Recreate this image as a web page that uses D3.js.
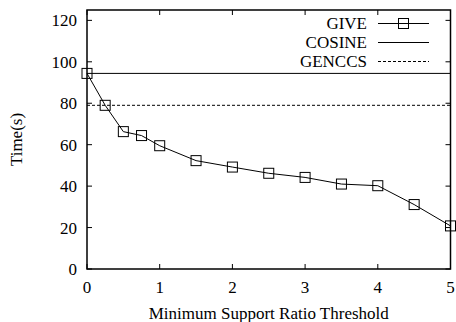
<!DOCTYPE html>
<html><head><meta charset="utf-8">
<script src="https://cdn.jsdelivr.net/npm/d3@7"></script>
<style>body{margin:0;background:#fff}svg{display:block}text{font-family:"Liberation Serif","Times New Roman",serif;fill:#000}</style>
</head><body><svg id="c" width="456" height="322"></svg>
<script>
const thresholds = [0, 0.25, 0.5, 0.75, 1, 1.5, 2, 2.5, 3, 3.5, 4, 4.5, 5];
const giveTimes = [94.4, 79, 66.3, 64.4, 59.5, 52.3, 49.2, 46.2, 44.2, 41, 40.2, 31.1, 20.8];
const cosineTime = 94.4;
const genccsTime = 79;
const xTicks = [0, 1, 2, 3, 4, 5];
const yTicks = [0, 20, 40, 60, 80, 100, 120];
const legendLabels = ["GIVE", "COSINE", "GENCCS"];

const svg = d3.select("#c");
const L = 87, R = 450.5, T = 10, B = 269;
const x = d3.scaleLinear().domain([0, 5]).range([L, R]);
const y = d3.scaleLinear().domain([0, 125]).range([B, T]);
const fs = 17;

// ticks (inward, mirrored)
const g = svg.append("g").attr("stroke", "#000").attr("stroke-width", 1);
yTicks.forEach(v => {
  g.append("line").attr("x1", L).attr("x2", L + 5).attr("y1", y(v)).attr("y2", y(v));
  g.append("line").attr("x1", R).attr("x2", R - 5).attr("y1", y(v)).attr("y2", y(v));
});
xTicks.forEach(v => {
  g.append("line").attr("x1", x(v)).attr("x2", x(v)).attr("y1", B).attr("y2", B - 5);
  g.append("line").attr("x1", x(v)).attr("x2", x(v)).attr("y1", T).attr("y2", T + 5);
});

// tick labels
svg.append("g").selectAll("text").data(yTicks).join("text")
  .attr("x", L - 10).attr("y", d => y(d)).attr("dy", "0.35em")
  .attr("text-anchor", "end").attr("font-size", fs).text(d => d);
svg.append("g").selectAll("text").data(xTicks).join("text")
  .attr("x", d => x(d)).attr("y", 287).attr("dy", "0.35em")
  .attr("text-anchor", "middle").attr("font-size", fs).text(d => d);

// axis titles
svg.append("text").attr("x", (L + R) / 2).attr("y", 313).attr("dy", "0.35em")
  .attr("text-anchor", "middle").attr("font-size", fs).text("Minimum Support Ratio Threshold");
svg.append("text").attr("transform", `translate(16,${(T + B) / 2}) rotate(-90)`)
  .attr("dy", "0.35em").attr("text-anchor", "middle").attr("font-size", fs).text("Time(s)");

// reference lines
svg.append("line").attr("x1", L).attr("x2", R).attr("y1", y(cosineTime)).attr("y2", y(cosineTime))
  .attr("stroke", "#000").attr("stroke-width", 1);
svg.append("line").attr("x1", L).attr("x2", R).attr("y1", y(genccsTime)).attr("y2", y(genccsTime))
  .attr("stroke", "#000").attr("stroke-width", 1).attr("stroke-dasharray", "3,2");

// GIVE line
const line = d3.line().x((d, i) => x(thresholds[i])).y(d => y(d));
svg.append("path").datum(giveTimes).attr("d", line).attr("fill", "none")
  .attr("stroke", "#000").attr("stroke-width", 1);
const s = 10;
svg.append("g").selectAll("rect").data(giveTimes).join("rect")
  .attr("x", (d, i) => x(thresholds[i]) - s / 2).attr("y", d => y(d) - s / 2)
  .attr("width", s).attr("height", s).attr("fill", "none")
  .attr("stroke", "#000").attr("stroke-width", 1);

// frame
svg.append("rect").attr("x", L).attr("y", T).attr("width", R - L).attr("height", B - T)
  .attr("fill", "none").attr("stroke", "#000").attr("stroke-width", 1.5);

// legend
const legY = [23.5, 42.5, 61.5];
const lx1 = 378, lx2 = 429, ltx = 367;
legendLabels.forEach((lab, i) => {
  svg.append("text").attr("x", ltx).attr("y", legY[i]).attr("dy", "0.35em")
    .attr("text-anchor", "end").attr("font-size", fs).text(lab);
  const ln = svg.append("line").attr("x1", lx1).attr("x2", lx2).attr("y1", legY[i]).attr("y2", legY[i])
    .attr("stroke", "#000").attr("stroke-width", 1);
  if (i === 2) ln.attr("stroke-dasharray", "3,2");
});
svg.append("rect").attr("x", (lx1 + lx2) / 2 - s / 2).attr("y", legY[0] - s / 2)
  .attr("width", s).attr("height", s).attr("fill", "none").attr("stroke", "#000");
</script></body></html>
